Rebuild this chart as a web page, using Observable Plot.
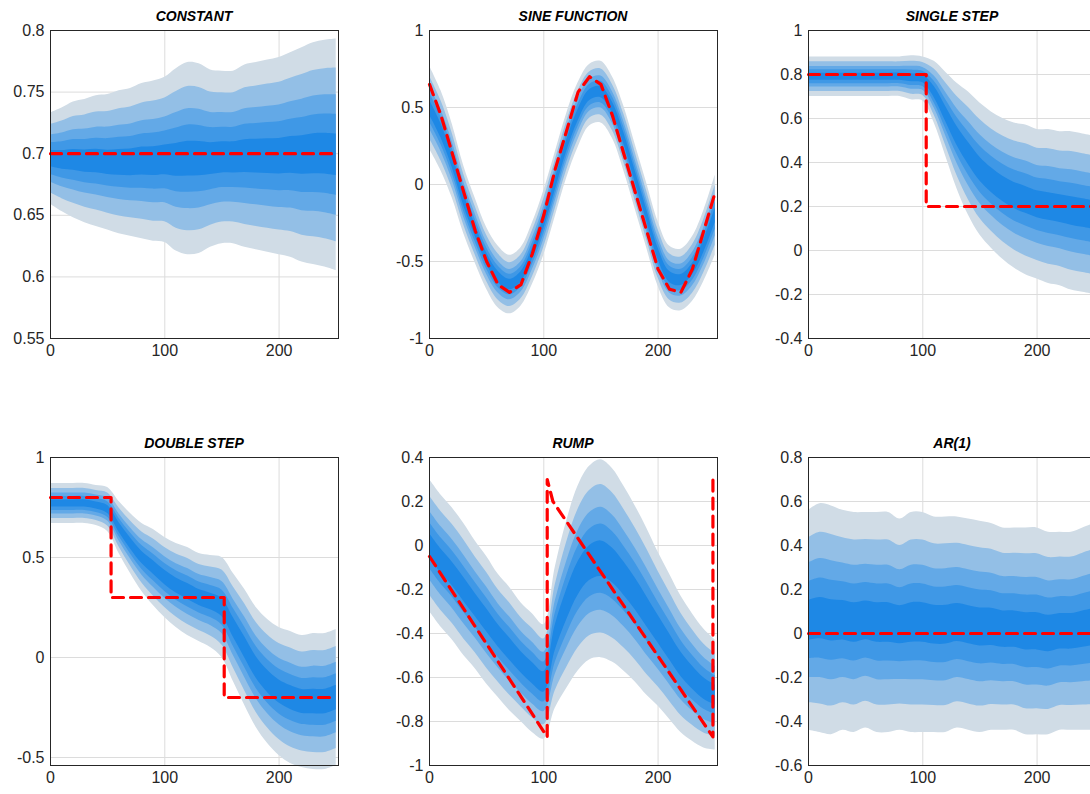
<!DOCTYPE html>
<html><head><meta charset="utf-8">
<script src="https://cdn.jsdelivr.net/npm/d3@7"></script>
<script src="https://cdn.jsdelivr.net/npm/@observablehq/plot@0.6"></script>
<style>
body{margin:0;width:1090px;height:794px;overflow:hidden;background:#fff;position:relative;font-family:"Liberation Sans",Arial,sans-serif}
.p{position:absolute}
.t{position:absolute;font:italic bold 14px "Liberation Sans",Arial,sans-serif;text-align:center;color:#000}
</style></head><body>
<script>
const xs = [0,10,20,30,40,50,60,70,80,90,100,110,120,130,140,150,160,170,180,190,200,210,220,230,240,250];
const titles = ["CONSTANT","SINE FUNCTION","SINGLE STEP","DOUBLE STEP","RUMP","AR(1)"];
const yDomains = [[0.55,0.8],[-1,1],[-0.4,1],[-0.54,1],[-1,0.4],[-0.6,0.8]];
const yTicks = [[0.55,0.6,0.65,0.7,0.75,0.8],[-1,-0.5,0,0.5,1],[-0.4,-0.2,0,0.2,0.4,0.6,0.8,1],[-0.5,0,0.5,1],[-1,-0.8,-0.6,-0.4,-0.2,0,0.2,0.4],[-0.6,-0.4,-0.2,0,0.2,0.4,0.6,0.8]];
// fan median
const mid = [
 [0.696,0.695,0.695,0.694,0.694,0.693,0.693,0.693,0.694,0.694,0.695,0.695,0.696,0.696,0.696,0.697,0.697,0.698,0.698,0.698,0.698,0.699,0.699,0.700,0.700,0.699],
 [0.5,0.35,0.15,-0.1,-0.3,-0.48,-0.6,-0.65,-0.6,-0.45,-0.25,0,0.25,0.45,0.58,0.6,0.5,0.3,0.05,-0.2,-0.45,-0.6,-0.62,-0.55,-0.4,-0.2],
 [0.79,0.79,0.79,0.79,0.79,0.79,0.79,0.79,0.79,0.785,0.78,0.72,0.62,0.52,0.44,0.37,0.32,0.28,0.25,0.23,0.21,0.2,0.19,0.18,0.17,0.16],
 [0.77,0.77,0.77,0.77,0.76,0.74,0.65,0.57,0.5,0.45,0.4,0.36,0.33,0.3,0.28,0.25,0.15,0.05,-0.05,-0.12,-0.17,-0.2,-0.22,-0.22,-0.22,-0.2],
 [0.0,-0.07,-0.13,-0.2,-0.27,-0.34,-0.41,-0.47,-0.53,-0.58,-0.62,-0.42,-0.27,-0.15,-0.08,-0.06,-0.09,-0.15,-0.22,-0.3,-0.38,-0.46,-0.54,-0.6,-0.65,-0.68]
 ,
 [0.06,0.07,0.06,0.06,0.05,0.06,0.05,0.05,0.04,0.05,0.05,0.04,0.04,0.05,0.04,0.03,0.03,0.02,0.02,0.01,0.01,0.0,0.01,0.01,0.02,0.03]
];
// half-width of the outermost band
const spread = [
 [0.037,0.042,0.047,0.05,0.053,0.055,0.058,0.06,0.063,0.065,0.067,0.074,0.078,0.077,0.072,0.07,0.07,0.074,0.076,0.078,0.08,0.083,0.087,0.09,0.092,0.094],
 [0.27,0.26,0.24,0.22,0.21,0.2,0.2,0.19,0.19,0.2,0.21,0.21,0.21,0.21,0.2,0.2,0.2,0.21,0.21,0.21,0.21,0.2,0.2,0.21,0.23,0.26],
 [0.09,0.09,0.09,0.09,0.09,0.09,0.09,0.09,0.09,0.1,0.1,0.14,0.19,0.24,0.28,0.3,0.31,0.32,0.33,0.34,0.34,0.35,0.35,0.36,0.36,0.36],
 [0.1,0.1,0.1,0.1,0.1,0.11,0.13,0.15,0.17,0.19,0.2,0.21,0.22,0.22,0.23,0.25,0.27,0.29,0.3,0.31,0.32,0.33,0.33,0.34,0.34,0.34],
 [0.3,0.3,0.3,0.3,0.29,0.29,0.28,0.28,0.27,0.27,0.26,0.32,0.38,0.42,0.44,0.45,0.44,0.42,0.4,0.38,0.35,0.33,0.31,0.29,0.27,0.25],
 [0.5,0.52,0.52,0.5,0.5,0.49,0.5,0.5,0.48,0.5,0.5,0.49,0.49,0.48,0.48,0.48,0.47,0.46,0.46,0.47,0.47,0.46,0.45,0.45,0.46,0.47]
];
const bandShare = [1,0.75,0.52,0.35,0.18];
const bandColors = ["#d0dce6","#93bfe6","#63a9e7","#3f98e6","#1e88e5"];
// red dashed target paths
const targetX = [
 [0,250],
 [0,10,20,30,40,50,60,70,80,90,100,110,120,130,140,150,160,170,180,190,200,210,220,230,240,250],
 [0,103,103,250],
 [0,53,53,152,152,250],
 [0,103,103,108,248,248],
 [0,250]
];
const targetY = [
 [0.7,0.7],
 [0.65,0.45,0.2,-0.05,-0.3,-0.5,-0.65,-0.7,-0.65,-0.45,-0.2,0.1,0.35,0.6,0.7,0.65,0.45,0.2,-0.05,-0.3,-0.55,-0.68,-0.7,-0.55,-0.3,-0.05],
 [0.8,0.8,0.2,0.2],
 [0.8,0.8,0.3,0.3,-0.2,-0.2],
 [-0.05,-0.87,0.3,0.2,-0.87,0.3],
 [0,0]
];
const frameX = [50,429,808], frameY = [30,457];
const W = 288, H = 308, ML = 50, MT = 22, MR = 10, MB = 30;

titles.forEach((title,i)=>{
  const c = i%3, r = Math.floor(i/3);
  const rows = xs.map((x,k)=>({x, m: mid[i][k], s: spread[i][k]}));
  const target = targetX[i].map((x,k)=>({x, y: targetY[i][k]}));
  const marks = [Plot.gridX([0,100,200],{stroke:"#dcdcdc",strokeOpacity:1}), Plot.gridY(yTicks[i],{stroke:"#dcdcdc",strokeOpacity:1})];
  bandShare.forEach((f,b)=>{
    marks.push(Plot.areaY(rows,{x:"x",y1:d=>d.m-d.s*f,y2:d=>d.m+d.s*f,fill:bandColors[b],curve:"catmull-rom"}));
  });
  marks.push(Plot.line(target,{x:"x",y:"y",stroke:"#ff0000",strokeWidth:3.2,strokeDasharray:"11,7"}));
  marks.push(Plot.frame({stroke:"#262626"}));
  const svg = Plot.plot({
    width: ML+W+MR, height: MT+H+MB,
    marginLeft: ML, marginRight: MR, marginTop: MT, marginBottom: MB,
    style:{fontFamily:"'Liberation Sans',Arial,sans-serif",fontSize:"16px",color:"#262626",background:"transparent",overflow:"visible"},
    x:{domain:[0,252],ticks:[0,100,200],tickFormat:d=>String(d),label:null,tickSize:0,tickPadding:6},
    y:{domain:yDomains[i],ticks:yTicks[i],tickFormat:d=>String(d),label:null,tickSize:0,tickPadding:6},
    marks
  });
  svg.classList.add("p");
  svg.style.left = (frameX[c]-ML)+"px";
  svg.style.top = (frameY[r]-MT)+"px";
  document.body.appendChild(svg);
  const t = document.createElement("div");
  t.className="t"; t.textContent=title;
  t.style.left = frameX[c]+"px"; t.style.width=W+"px"; t.style.top=(frameY[r]-22)+"px";
  document.body.appendChild(t);
});
</script>
</body></html>
